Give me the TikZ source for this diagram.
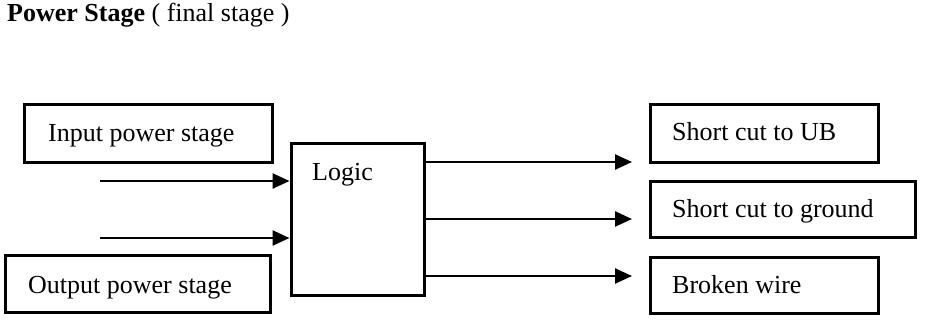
\documentclass[tikz,border=0pt]{standalone}
\usepackage{fontspec}
\setmainfont{Liberation Serif}
\usetikzlibrary{arrows.meta}
\begin{document}
\begin{tikzpicture}[x=1pt,y=-1pt,
  box/.style={draw,line width=3pt,inner sep=0pt},
  lbl/.style={anchor=base west,inner sep=0pt,font=\fontsize{26}{30}\selectfont},
  arr/.style={line width=2.5pt,-{Triangle[length=17pt,width=15pt]}}]
\useasboundingbox (0,0) rectangle (944,324);
\node[lbl] (title) at (7,21) {\textbf{Power Stage} ( final stage )};
% boxes
\node[box,minimum width=248pt,minimum height=58pt] (inp) at (148,133) {};
\node[box,minimum width=265pt,minimum height=57pt] (outp) at (138,284) {};
\node[box,minimum width=133pt,minimum height=152pt] (logic) at (357.5,219) {};
\node[box,minimum width=228pt,minimum height=58pt] (ub) at (764,133) {};
\node[box,minimum width=265pt,minimum height=56pt] (gnd) at (782.5,209) {};
\node[box,minimum width=228pt,minimum height=56pt] (bw) at (764,285) {};
% labels
\node[lbl] (tinp) at (48,141) {Input power stage};
\node[lbl] (toutp) at (28,293) {Output power stage};
\node[lbl] (tlogic) at (312,180) {Logic};
\node[lbl] (tub) at (672,140) {Short cut to UB};
\node[lbl] (tgnd) at (672,217) {Short cut to ground};
\node[lbl] (tbw) at (672,293) {Broken wire};
% connectors
\coordinate (s1) at (100,181);
\coordinate (s2) at (100,238);
\coordinate (e1) at (632,162);
\coordinate (e2) at (632,219);
\coordinate (e3) at (632,276);
\draw[arr] (s1) -- (s1 -| logic.west);
\draw[arr] (s2) -- (s2 -| logic.west);
\draw[arr] (e1 -| logic.east) -- (e1);
\draw[arr] (e2 -| logic.east) -- (e2);
\draw[arr] (e3 -| logic.east) -- (e3);
\end{tikzpicture}
\end{document}
